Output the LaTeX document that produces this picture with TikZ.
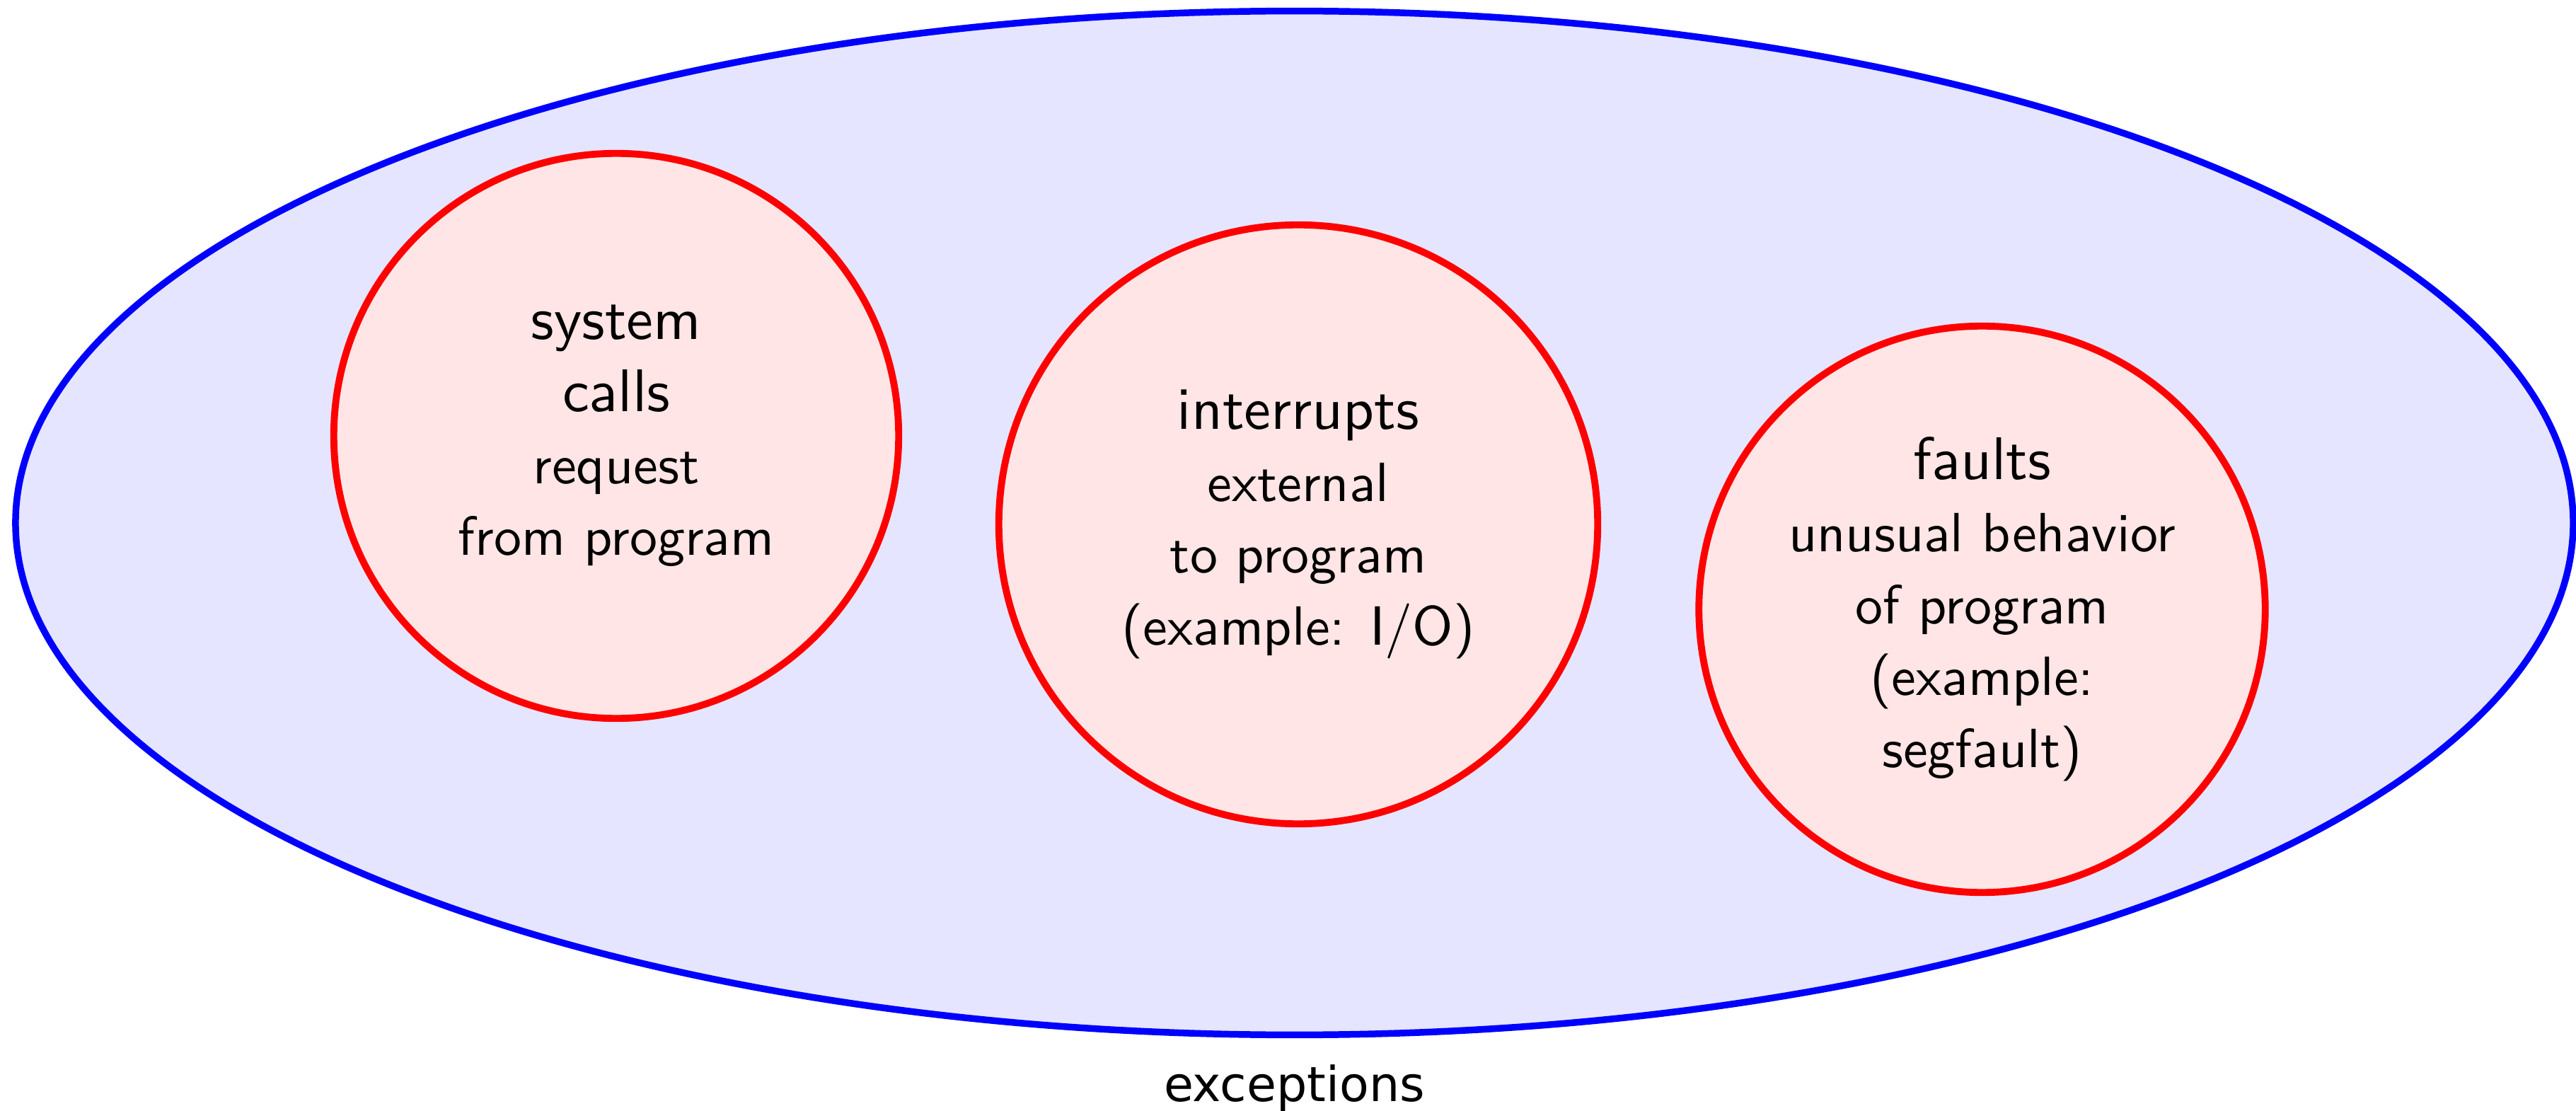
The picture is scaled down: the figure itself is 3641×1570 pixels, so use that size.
\documentclass[tikz,border=0pt]{standalone}
\usepackage{fontspec}
\usetikzlibrary{shapes.geometric}
\newfontfamily\captionfont{DejaVu Sans}
\newfontfamily\kindfont{lmsans10-regular}[Extension=.otf]
% sizes for the heading and the description lines inside each class
\newcommand\headsize{\fontsize{24.2}{28.9}\selectfont}
\newcommand\descsize{\fontsize{22.2}{28.9}\selectfont}
\tikzset{
  outerset/.style={ellipse, draw=blue, fill=blue!10, line width=2.7pt,
    minimum width=36.13cm, minimum height=14.46cm, inner sep=0pt},
  kindset/.style={circle, draw=red, fill=red!10, line width=2.8pt,
    inner sep=0pt, align=center, font=\kindfont\headsize},
  settitle/.style={font=\captionfont\fontsize{19.4}{23}\selectfont, inner sep=0pt, anchor=base}
}
\begin{document}
\begin{tikzpicture}[x=0.01cm, y=-0.01cm]
  \useasboundingbox (0,0) rectangle (3641,1570);
  % the enclosing set of exceptions
  \node[outerset] (exc) at (1829.5,739) {};
  % the three kinds of exception
  \node[kindset, minimum size=7.98cm] (sys) at (871,616)
    {system\\calls\\{\descsize request}\\{\descsize from program}};
  \node[kindset, minimum size=8.46cm] (intr) at (1835,741)
    {interrupts\\{\descsize external}\\{\descsize to program}\\{\descsize (example: I/O)}};
  \node[kindset, minimum size=8.00cm] (flt) at (2801.5,861)
    {faults\\{\descsize unusual behavior}\\{\descsize of program}\\{\descsize (example:}\\{\descsize segfault)}};
  % caption of the enclosing set
  \node[settitle] (cap) at (1829.5,1556) {exceptions};
\end{tikzpicture}
\end{document}
